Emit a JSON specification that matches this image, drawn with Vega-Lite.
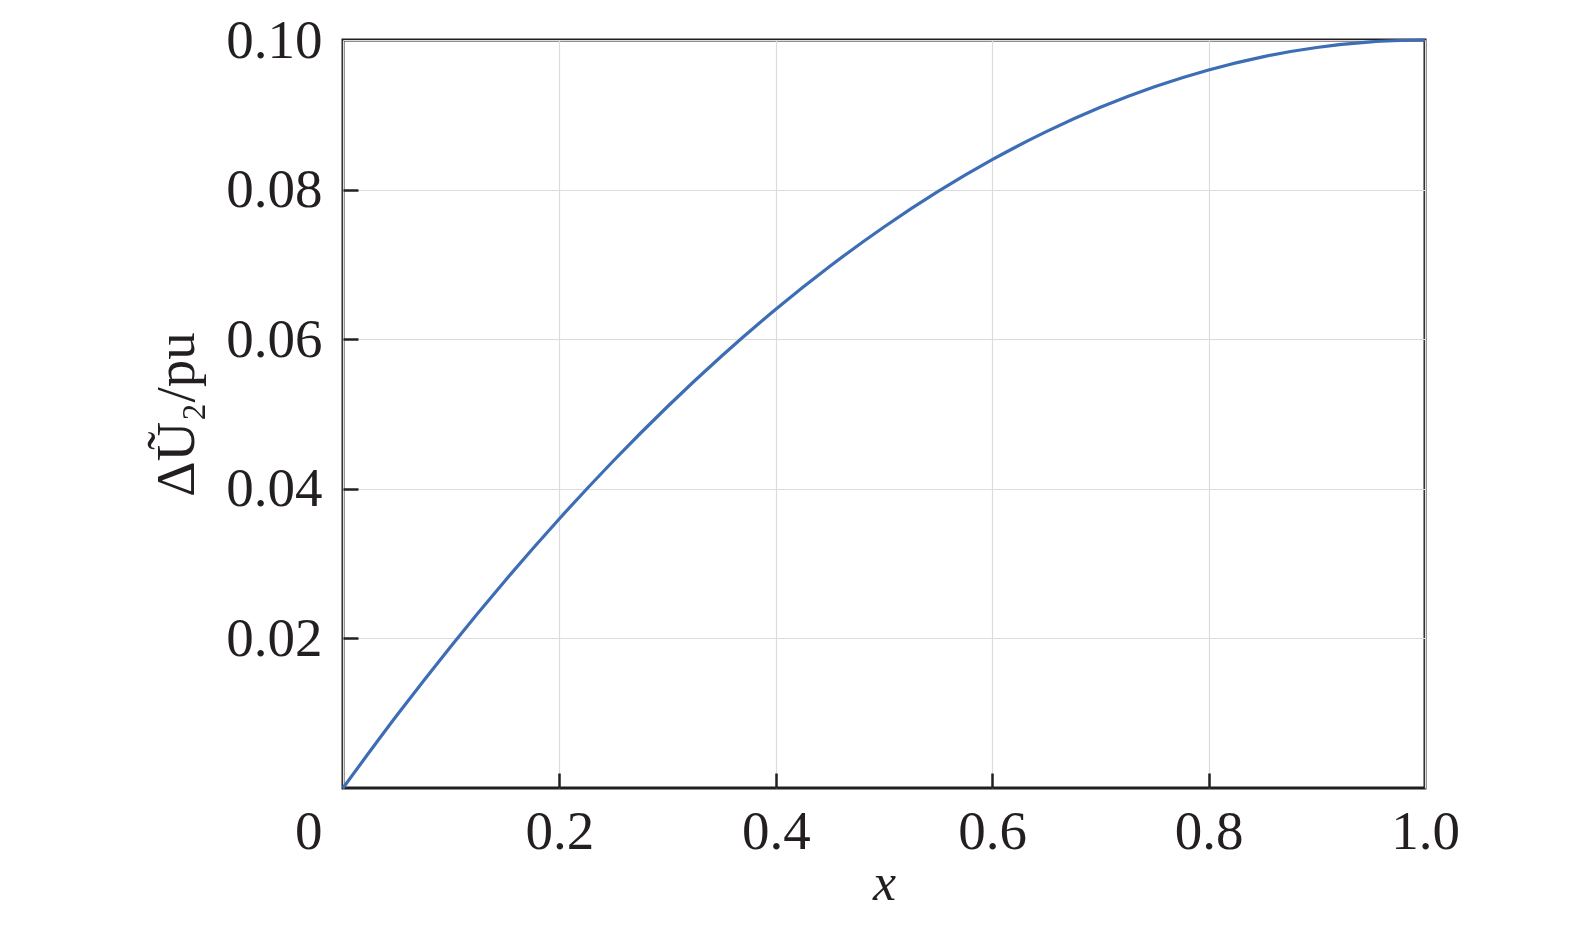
{
  "$schema": "https://vega.github.io/schema/vega-lite/v6.json",
  "width": 1082,
  "height": 748,
  "autosize": {"type": "none"},
  "padding": {"left": 343, "top": 40, "right": 150, "bottom": 137},
  "background": "white",
  "config": {
    "view": {"stroke": "#231f20", "strokeWidth": 3},
    "font": "Liberation Serif"
  },
  "data": {
    "values": [
      {"x": 0, "y": 0},
      {"x": 0.05, "y": 0.00975},
      {"x": 0.1, "y": 0.019},
      {"x": 0.15, "y": 0.02775},
      {"x": 0.2, "y": 0.036},
      {"x": 0.25, "y": 0.04375},
      {"x": 0.3, "y": 0.051},
      {"x": 0.35, "y": 0.05775},
      {"x": 0.4, "y": 0.064},
      {"x": 0.45, "y": 0.06975},
      {"x": 0.5, "y": 0.075},
      {"x": 0.55, "y": 0.07975},
      {"x": 0.6, "y": 0.084},
      {"x": 0.65, "y": 0.08775},
      {"x": 0.7, "y": 0.091},
      {"x": 0.75, "y": 0.09375},
      {"x": 0.8, "y": 0.096},
      {"x": 0.85, "y": 0.09775},
      {"x": 0.9, "y": 0.099},
      {"x": 0.95, "y": 0.09975},
      {"x": 1.0, "y": 0.1}
    ]
  },
  "resolve": {"axis": {"x": "independent", "y": "independent"}},
  "layer": [
    {
      "mark": {"type": "line", "color": "#3d6db4", "strokeWidth": 3.2, "interpolate": "monotone", "clip": false},
      "encoding": {
        "x": {
          "field": "x",
          "type": "quantitative",
          "scale": {"domain": [0, 1], "nice": false, "zero": false},
          "axis": {
            "orient": "bottom",
            "title": "x",
            "titleFont": "Liberation Serif",
            "titleFontStyle": "italic",
            "titleFontWeight": "normal",
            "titleFontSize": 52,
            "titleColor": "#231f20",
            "titlePadding": -1,
            "values": [0, 0.2, 0.4, 0.6, 0.8, 1.0],
            "labelExpr": "datum.value == 0 ? '0' : format(datum.value, '.1f')",
            "labelFont": "Liberation Serif",
            "labelFontSize": 55,
            "labelColor": "#231f20",
            "labelPadding": 17,
            "labelAlign": {"condition": {"test": "datum.value == 0", "value": "right"}, "value": "center"},
            "labelOffset": {"condition": {"test": "datum.value == 0", "value": -21}, "value": 0},
            "labelFlush": false,
            "labelOverlap": false,
            "domain": false,
            "ticks": false,
            "tickSize": 0,
            "grid": true,
            "gridColor": "#dcdcdc",
            "gridWidth": 1.2
          }
        },
        "y": {
          "field": "y",
          "type": "quantitative",
          "scale": {"domain": [0, 0.1], "nice": false},
          "axis": {
            "orient": "left",
            "title": "ΔŨ₂/pu",
            "titleFont": "Liberation Serif",
            "titleFontWeight": "normal",
            "titleFontSize": 55,
            "titleColor": "#231f20",
            "titlePadding": 20,
            "values": [0.02, 0.04, 0.06, 0.08, 0.1],
            "format": ".2f",
            "labelFont": "Liberation Serif",
            "labelFontSize": 55,
            "labelColor": "#231f20",
            "labelPadding": 21,
            "labelFlush": false,
            "labelOverlap": false,
            "domain": false,
            "ticks": false,
            "tickSize": 0,
            "grid": true,
            "gridColor": "#dcdcdc",
            "gridWidth": 1.2
          }
        }
      }
    },
    {
      "mark": {"type": "line", "strokeOpacity": 0, "interpolate": "monotone"},
      "encoding": {
        "x": {
          "field": "x",
          "type": "quantitative",
          "axis": {
            "orient": "bottom",
            "offset": -15,
            "title": null,
            "values": [0.2, 0.4, 0.6, 0.8],
            "labels": false,
            "domain": false,
            "grid": false,
            "ticks": true,
            "tickSize": 15,
            "tickWidth": 2.5,
            "tickColor": "#231f20"
          }
        },
        "y": {
          "field": "y",
          "type": "quantitative",
          "axis": {
            "orient": "left",
            "offset": -15,
            "title": null,
            "values": [0.02, 0.04, 0.06, 0.08],
            "labels": false,
            "domain": false,
            "grid": false,
            "ticks": true,
            "tickSize": 15,
            "tickWidth": 2.5,
            "tickColor": "#231f20"
          }
        }
      }
    }
  ]
}
